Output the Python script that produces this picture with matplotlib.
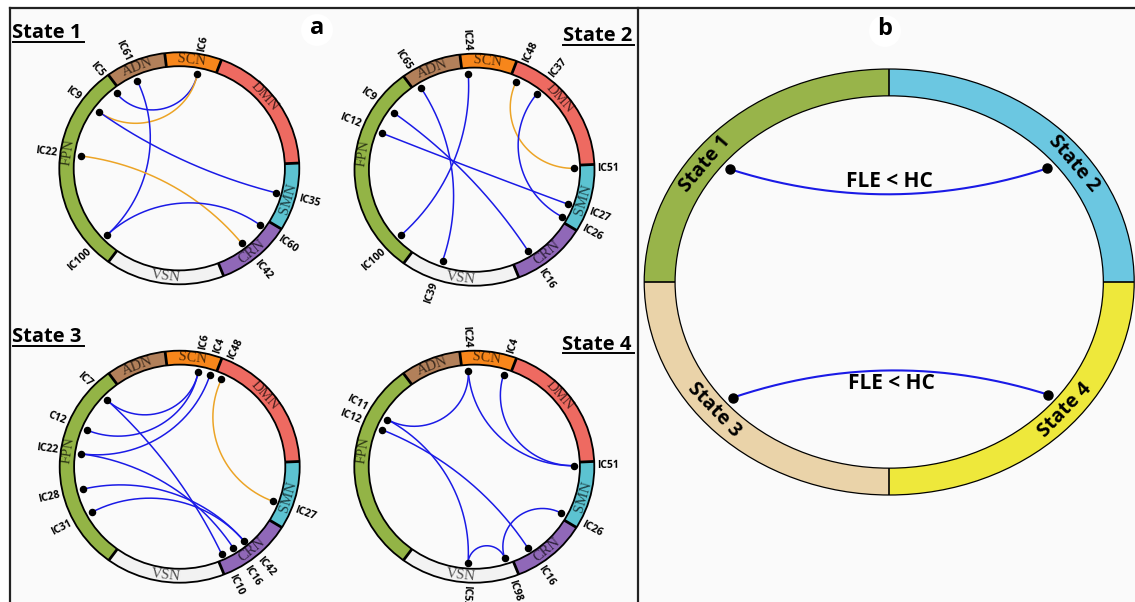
import numpy as np
import matplotlib.pyplot as plt
from matplotlib.patches import Polygon, Ellipse, Rectangle, Circle

plt.rcParams['font.family'] = ['Open Sans', 'DejaVu Sans']

# ---------------------------------------------------------------- data
# networks around each connectogram, counter-clockwise, boundaries in degrees
networks = ['SMN', 'DMN', 'SCN', 'ADN', 'FPN', 'VSN', 'CRN']
net_bounds = [-31.6, 2.6, 69.4, 97.0, 126.3, 233.8, 291.7, 328.4]
net_colors = ['#5cc3d1', '#ee6a61', '#f7861b', '#b2805a', '#93b446', '#f2f2f2', '#9068b8']

# node angles (deg) and significant links for each state; 'lt' = FLE < HC, 'gt' = FLE > HC
s1_nodes = ['IC6', 'IC61', 'IC5', 'IC9', 'IC22', 'IC100', 'IC42', 'IC60', 'IC35']
s1_angles = [79.5, 114.9, 129.0, 144.0, 172.6, 223.7, -51.2, -36.0, -14.7]
s1_edges = [('IC5', 'IC6', 'lt'), ('IC9', 'IC6', 'gt'), ('IC61', 'IC100', 'lt'),
            ('IC9', 'IC35', 'lt'), ('IC22', 'IC42', 'gt'), ('IC100', 'IC60', 'lt')]

s2_nodes = ['IC51', 'IC37', 'IC48', 'IC24', 'IC65', 'IC9', 'IC12', 'IC100', 'IC39', 'IC16', 'IC26', 'IC27']
s2_angles = [0.8, 51.5, 65.4, 93.6, 122.3, 143.9, 157.8, 222.7, 251.3, -57.5, -29.1, -20.9]
s2_edges = [('IC48', 'IC51', 'gt'), ('IC37', 'IC26', 'lt'), ('IC24', 'IC100', 'lt'),
            ('IC65', 'IC39', 'lt'), ('IC9', 'IC16', 'lt'), ('IC12', 'IC27', 'lt')]

s3_nodes = ['IC48', 'IC4', 'IC6', 'IC7', 'C12', 'IC22', 'IC28', 'IC31', 'IC10', 'IC16', 'IC42', 'IC27']
s3_angles = [65.2, 72.3, 79.3, 136.5, 157.8, 172.3, 193.5, 208.2, -65.1, -57.5, -50.1, -21.0]
s3_edges = [('IC48', 'IC27', 'gt'), ('IC7', 'IC6', 'lt'), ('C12', 'IC6', 'lt'),
            ('IC22', 'IC4', 'lt'), ('IC7', 'IC10', 'lt'), ('IC22', 'IC16', 'lt'),
            ('IC28', 'IC42', 'lt'), ('IC31', 'IC42', 'lt')]

s4_nodes = ['IC51', 'IC4', 'IC24', 'IC11', 'IC12', 'IC52', 'IC98', 'IC16', 'IC26']
s4_angles = [0.6, 72.9, 93.5, 150.7, 157.5, -93.6, -72.2, -57.5, -28.9]
s4_edges = [('IC24', 'IC11', 'lt'), ('IC24', 'IC51', 'lt'), ('IC4', 'IC51', 'lt'),
            ('IC11', 'IC52', 'lt'), ('IC12', 'IC16', 'lt'), ('IC52', 'IC98', 'lt'),
            ('IC98', 'IC26', 'lt')]

# panel b: states on one ring, links between them
b_states = ['State 1', 'State 2', 'State 3', 'State 4']
b_bounds = [(90, 180), (0, 90), (180, 270), (270, 360)]
b_colors = ['#98b44a', '#6bc7e1', '#ead3a9', '#eee83b']
b_dot_angles = [140.8, 39.6, 220.4, -39.2]
b_label_angles = [143.6, 36.5, 220.0, -40.0]
b_links = [('State 1', 'State 2', 'FLE < HC'), ('State 3', 'State 4', 'FLE < HC')]

# ---------------------------------------------------------------- style
BLUE = '#1a1ae6'
ORANGE = '#eca426'
edge_colors = {'lt': BLUE, 'gt': ORANGE}
net_label_angle = {'SMN': -16.0, 'DMN': 41.0, 'SCN': 83.5, 'ADN': 112.0,
                   'FPN': 171.5, 'VSN': 263.0, 'CRN': -50.0}

RX, RY = 120.0, 116.0       # connectogram radii (px)
R_IN = 0.88                 # inner edge of the network ring
R_DOT = 0.83                # node radius

fig = plt.figure(figsize=(11.35, 6.02), dpi=100)
ax = fig.add_axes([0, 0, 1, 1])
ax.set_xlim(0, 1135)
ax.set_ylim(602, 0)
ax.axis('off')


def px(cx, cy, rx, ry, r, th):
    t = np.radians(th)
    return cx + r * rx * np.cos(t), cy - r * ry * np.sin(t)


def screen_angle(th, rx, ry):
    t = np.radians(th)
    return np.degrees(np.arctan2(ry * np.sin(t), rx * np.cos(t)))


def tangent_rot(th, rx, ry):
    t = np.radians(th)
    if np.sin(t) >= 0:
        return np.degrees(np.arctan2(-ry * np.cos(t), rx * np.sin(t)))
    return np.degrees(np.arctan2(ry * np.cos(t), -rx * np.sin(t)))


def geodesic(a_deg, b_deg, rd, n=150):
    # arc orthogonal to the node circle (Poincare disk geodesic)
    a, b = np.radians([a_deg, b_deg])
    d = (b - a + np.pi) % (2 * np.pi) - np.pi
    h = abs(d) / 2
    p = rd * np.array([np.cos(a), np.sin(a)])
    q = rd * np.array([np.cos(b), np.sin(b)])
    if np.cos(h) < 1e-3:
        s = np.linspace(0, 1, n)
        return p[0] + (q[0] - p[0]) * s, p[1] + (q[1] - p[1]) * s
    m = a + d / 2
    c = rd / np.cos(h) * np.array([np.cos(m), np.sin(m)])
    fp = np.arctan2(p[1] - c[1], p[0] - c[0])
    fq = np.arctan2(q[1] - c[1], q[0] - c[0])
    df = (fq - fp + np.pi) % (2 * np.pi) - np.pi
    f = fp + df * np.linspace(0, 1, n)
    R = rd * np.tan(h)
    return c[0] + R * np.cos(f), c[1] + R * np.sin(f)


def ring(cx, cy, rx, ry, r_in, spans, colors, lw_out, lw_sep):
    for (t0, t1), col in zip(spans, colors):
        t = np.linspace(t0, t1, 80)
        xo, yo = px(cx, cy, rx, ry, 1.0, t)
        xi, yi = px(cx, cy, rx, ry, r_in, t[::-1])
        ax.add_patch(Polygon(np.column_stack([np.r_[xo, xi], np.r_[yo, yi]]),
                             fc=col, ec='none', zorder=2))
    ax.add_patch(Ellipse((cx, cy), 2 * rx, 2 * ry, fill=False, ec='black', lw=lw_out, zorder=3))
    ax.add_patch(Ellipse((cx, cy), 2 * rx * r_in, 2 * ry * r_in, fill=False, ec='black',
                         lw=lw_out, zorder=3))
    for t0, _ in spans:
        x0, y0 = px(cx, cy, rx, ry, r_in, t0)
        x1, y1 = px(cx, cy, rx, ry, 1.0, t0)
        ax.plot([x0, x1], [y0, y1], color='black', lw=lw_sep, zorder=3, solid_capstyle='butt')


def connectogram(cx, cy, nodes, angles, edges):
    spans = list(zip(net_bounds[:-1], net_bounds[1:]))
    ring(cx, cy, RX, RY, R_IN, spans, net_colors, 1.3, 2.0)
    for name in networks:
        th = net_label_angle[name]
        x, y = px(cx, cy, RX, RY, (1 + R_IN) / 2, th)
        ax.text(x, y, name, fontsize=10.5, family='Liberation Serif', color='black', alpha=0.68,
                rotation=tangent_rot(th, RX, RY), rotation_mode='anchor',
                ha='center', va='center', zorder=4)

    ang = dict(zip(nodes, angles))
    for a, b, kind in edges:
        gx, gy = geodesic(ang[a], ang[b], R_DOT)
        ax.plot(cx + gx * RX, cy - gy * RY, color=edge_colors[kind], lw=1.1, zorder=5)

    for name, th in zip(nodes, angles):
        x, y = px(cx, cy, RX, RY, R_DOT, th)
        ax.plot(x, y, 'o', color='black', ms=4.4, zorder=6)
        lx, ly = cx + (RX + 3) * np.cos(np.radians(th)), cy - (RY + 3) * np.sin(np.radians(th))
        rot = screen_angle(th, RX, RY)
        if -95 <= rot <= 90:
            ha = 'left'
        else:
            rot = rot - 180 if rot > 0 else rot + 180
            ha = 'right'
        ax.text(lx, ly, name, fontsize=7.5, fontweight='bold', rotation=rot,
                rotation_mode='anchor', ha=ha, va='center', zorder=6)


# ---------------------------------------------------------------- frame
ax.add_patch(Rectangle((10, 8), 1125, 594, fc='#fafafa', ec='none', zorder=0))
ax.plot([10, 1135], [8, 8], color='#222222', lw=1.6, zorder=1)
ax.plot([10, 10], [8, 602], color='#222222', lw=1.6, zorder=1)
ax.plot([638, 638], [8, 602], color='#222222', lw=1.6, zorder=1)

# ---------------------------------------------------------------- panel a
connectogram(179.3, 168.3, s1_nodes, s1_angles, s1_edges)
connectogram(474.5, 169.7, s2_nodes, s2_angles, s2_edges)
connectogram(179.7, 466.7, s3_nodes, s3_angles, s3_edges)
connectogram(474.3, 466.7, s4_nodes, s4_angles, s4_edges)

headings = [('State 1', 12.5, 38.5, 'left'), ('State 2', 632, 41.0, 'right'),
            ('State 3', 12.5, 342.5, 'left'), ('State 4', 632, 349.5, 'right')]
htexts = []
for s, x, y, ha in headings:
    htexts.append(ax.text(x, y, s, fontsize=14.5, fontweight='bold', ha=ha, va='baseline', zorder=6))

for lab, x, y in [('a', 317, 28), ('b', 885, 29)]:
    ax.add_patch(Circle((x, y + 2), 16, fc='white', ec='none', zorder=5))
    ax.text(x, y, lab, fontsize=17, fontweight='bold', ha='center', va='center', zorder=6)

# ---------------------------------------------------------------- panel b
BCX, BCY, BRX, BRY = 889.2, 282.0, 245.0, 213.0
ring(BCX, BCY, BRX, BRY, 0.874, b_bounds, b_colors, 0.9, 1.2)
for s, th in zip(b_states, b_label_angles):
    x, y = px(BCX, BCY, BRX, BRY, 0.935, th)
    ax.text(x, y, s, fontsize=14, fontweight='bold', rotation=tangent_rot(th, BRX, BRY),
            rotation_mode='anchor', ha='center', va='center', zorder=6)

b_ang = dict(zip(b_states, b_dot_angles))
for a, b, lab in b_links:
    p0 = np.array(px(BCX, BCY, BRX, BRY, 0.837, b_ang[a]))
    p2 = np.array(px(BCX, BCY, BRX, BRY, 0.837, b_ang[b]))
    ctr = np.array([BCX, BCY])
    c = ctr + ((p0 + p2) / 2 - ctr) * 0.55
    t = np.linspace(0, 1, 150)[:, None]
    curve = (1 - t) ** 2 * p0 + 2 * (1 - t) * t * c + t ** 2 * p2
    ax.plot(curve[:, 0], curve[:, 1], color=BLUE, lw=1.5, zorder=5)
    for p in (p0, p2):
        ax.plot(p[0], p[1], 'o', color='black', ms=6.5, zorder=6)
    mid = curve[len(curve) // 2]
    off = -13 if mid[1] < BCY else 13
    ax.text(mid[0], mid[1] + off, lab, fontsize=15, fontweight='bold',
            ha='center', va='center', zorder=6)

# underline the state headings
fig.canvas.draw()
inv = ax.transData.inverted()
r = fig.canvas.get_renderer()
for t, (s, x, y, ha) in zip(htexts, headings):
    bb = t.get_window_extent(r)
    (x0, _), (x1, _) = inv.transform([[bb.x0, bb.y0], [bb.x1, bb.y1]])
    ax.plot([x0, x1 + 2], [y + 3.5, y + 3.5], color='black', lw=1.4, zorder=6)

fig.savefig('out.png', dpi=100)
